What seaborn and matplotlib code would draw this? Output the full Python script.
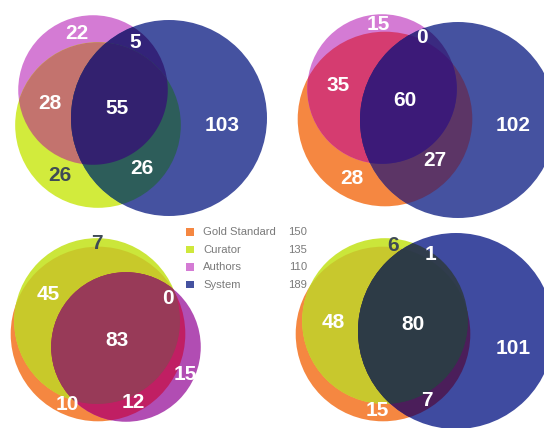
import numpy as np
import matplotlib
matplotlib.use("Agg")
import matplotlib.pyplot as plt
from matplotlib.patches import Circle, Polygon, Rectangle
import seaborn as sns

# ---------------- data ----------------
set_names = ["Gold Standard", "Curator", "Authors", "System"]
set_sizes = [150, 135, 110, 189]
set_colors = ["#f58741", "#cfe83c", "#d47bd4", "#4552a0"]

# region codes: membership of the three sets of each panel (1 = inside)
region_codes = ["100", "010", "001", "110", "101", "011", "111"]

p1_sets = ["Authors", "Curator", "System"]
p1_counts = [22, 26, 103, 28, 5, 26, 55]

p2_sets = ["Gold Standard", "Authors", "System"]
p2_counts = [28, 15, 102, 35, 27, 0, 60]

p3_sets = ["Gold Standard", "Curator", "Authors"]
p3_counts = [10, 7, 15, 45, 12, 0, 83]

p4_sets = ["Gold Standard", "Curator", "System"]
p4_counts = [15, 6, 101, 48, 7, 1, 80]

# ---------------- layout / style ----------------
W, H = 544, 428
RSCALE = 98 / np.sqrt(189)   # pixels per sqrt(count): circle area ~ set size

panels = [
    dict(sets=p1_sets, counts=p1_counts,
         centers=[(93, 90), (98, 125), (169, 118)],
         colors=["#d47bd4", "#d2eb3c", "#4552a0", "#c3736e", "#332379", "#2d5d5a", "#33216f"],
         label_pos=[(77, 33), (60, 175), (222, 125), (50, 103), (135, 42), (142, 168), (117, 108)],
         dark=[1]),
    dict(sets=p2_sets, counts=p2_counts,
         centers=[(385, 119), (382, 89), (458, 120)],
         colors=["#f58741", "#d47bd4", "#4552a0", "#d53c70", "#5c3566", "#3a2a80", "#3c1a78"],
         label_pos=[(352, 178), (378, 24), (513, 125), (338, 85), (435, 160), (422, 37), (405, 100)],
         dark=[]),
    dict(sets=p3_sets, counts=p3_counts,
         centers=[(98, 334), (97, 321), (126, 347)],
         colors=["#f58741", "#cbe63a", "#b14db3", "#c8c92a", "#c01f63", "#9a3a5a", "#983a58"],
         label_pos=[(67, 405), (97, 243), (185, 375), (48, 295), (133, 402), (168, 298), (117, 340)],
         dark=[1]),
    dict(sets=p4_sets, counts=p4_counts,
         centers=[(383, 334), (385, 321), (456, 331)],
         colors=["#f58741", "#cbe63a", "#3f4ba0", "#c8c82d", "#4b1e5a", "#303c4c", "#2d3b46"],
         label_pos=[(377, 411), (393, 245), (513, 349), (333, 323), (427, 401), (430, 254), (413, 325)],
         dark=[1]),
]

sns.set_theme(style="white")
plt.rcParams["font.family"] = ["Liberation Sans", "DejaVu Sans"]

fig = plt.figure(figsize=(W / 100, H / 100), dpi=100)
ax = fig.add_axes([0, 0, 1, 1])
ax.set_xlim(0, W)
ax.set_ylim(H, 0)
ax.set_aspect("equal")
ax.axis("off")


def radius(name):
    return RSCALE * np.sqrt(set_sizes[set_names.index(name)])


def lens_polygon(c1, r1, c2, r2, n=1440):
    t = np.linspace(0, 2 * np.pi, n, endpoint=False)
    a = np.c_[c1[0] + r1 * np.cos(t), c1[1] + r1 * np.sin(t)]
    b = np.c_[c2[0] + r2 * np.cos(t), c2[1] + r2 * np.sin(t)]
    a = a[np.hypot(a[:, 0] - c2[0], a[:, 1] - c2[1]) <= r2]
    b = b[np.hypot(b[:, 0] - c1[0], b[:, 1] - c1[1]) <= r1]
    pts = np.vstack([a, b])
    m = pts.mean(axis=0)
    order = np.argsort(np.arctan2(pts[:, 1] - m[1], pts[:, 0] - m[0]))
    return pts[order]


for p in panels:
    rs = [radius(s) for s in p["sets"]]
    cs = p["centers"]
    col = dict(zip(region_codes, p["colors"]))

    def circ(i, color):
        c = Circle(cs[i], rs[i], facecolor=color, edgecolor="none", lw=0,
                   transform=ax.transData)
        return c

    # single sets
    for i, code in enumerate(["100", "010", "001"]):
        ax.add_patch(circ(i, col[code]))
    # pairwise overlaps
    for (i, j, code) in [(0, 1, "110"), (0, 2, "101"), (1, 2, "011")]:
        patch = circ(j, col[code])
        ax.add_patch(patch)
        patch.set_clip_path(circ(i, "none"))
    # triple overlap
    poly = Polygon(lens_polygon(cs[0], rs[0], cs[1], rs[1]), closed=True,
                   facecolor=col["111"], edgecolor="none", lw=0)
    ax.add_patch(poly)
    poly.set_clip_path(circ(2, "none"))

    # counts
    for k, (val, (x, y)) in enumerate(zip(p["counts"], p["label_pos"])):
        tc = "#3f4b55" if k in p["dark"] else "white"
        ax.text(x, y, str(val), ha="center", va="center", fontsize=15,
                fontweight="bold", color=tc, zorder=10)

# legend
leg_y = [232, 249.5, 267, 284.5]
for name, size, color, y in zip(set_names, set_sizes, set_colors, leg_y):
    ax.add_patch(Rectangle((186, y - 3.8), 7.6, 7.6, facecolor=color,
                           edgecolor="none", zorder=11))
    ax.text(203, y, name, ha="left", va="center", fontsize=8.1,
            color="#7a7a7a", zorder=11)
    ax.text(307, y, str(size), ha="right", va="center", fontsize=8.1,
            color="#7a7a7a", zorder=11)

fig.savefig("out.png", dpi=100, facecolor="white")
